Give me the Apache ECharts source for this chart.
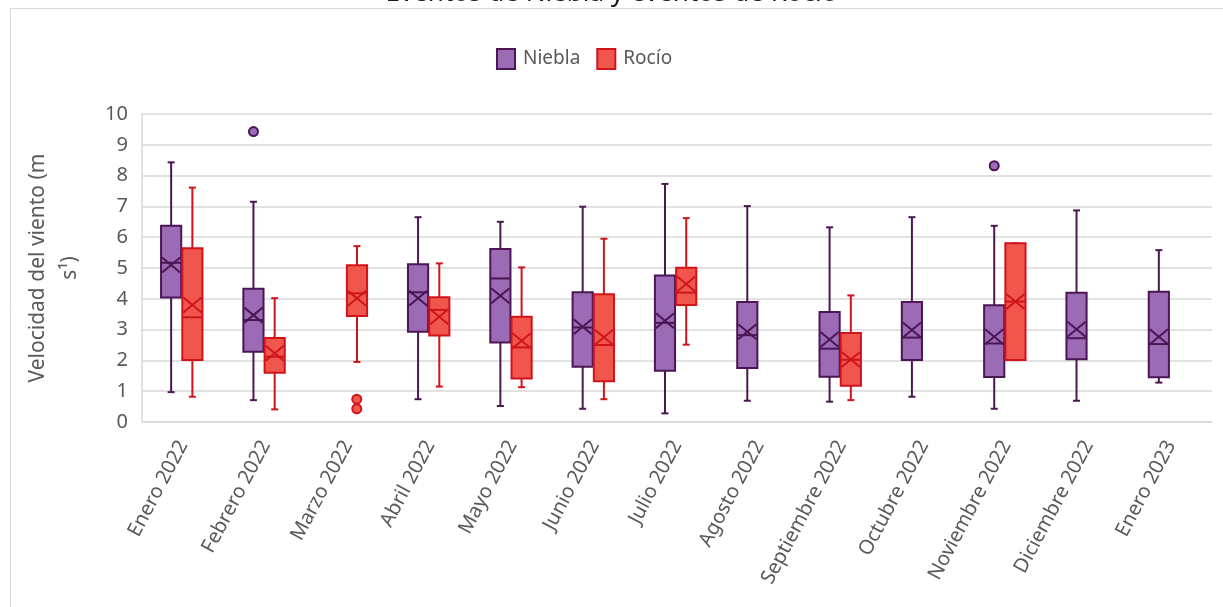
<!DOCTYPE html>
<html>
<head>
<meta charset="utf-8">
<script src="https://cdn.jsdelivr.net/npm/echarts@6/dist/echarts.min.js"></script>
<style>
  html, body { margin: 0; padding: 0; background: #ffffff; }
  #chart { width: 1223px; height: 607px; }
</style>
</head>
<body>
<div id="chart"></div>
<script>
// Monthly wind-speed distributions during fog (Niebla) and dew (Rocío) events
const months = ['Enero 2022', 'Febrero 2022', 'Marzo 2022', 'Abril 2022', 'Mayo 2022', 'Junio 2022',
  'Julio 2022', 'Agosto 2022', 'Septiembre 2022', 'Octubre 2022', 'Noviembre 2022',
  'Diciembre 2022', 'Enero 2023'];

const nieblaMin    = [0.97, 0.71, null, 0.74, 0.52, 0.43, 0.28, 0.69, 0.66, 0.82, 0.43, 0.69, 1.28];
const nieblaQ1     = [4.04, 2.28, null, 2.93, 2.58, 1.79, 1.66, 1.75, 1.47, 2.01, 1.46, 2.04, 1.45];
const nieblaMedian = [5.17, 3.31, null, 4.21, 4.66, 3.07, 3.22, 2.82, 2.38, 2.74, 2.55, 2.72, 2.53];
const nieblaQ3     = [6.37, 4.33, null, 5.12, 5.62, 4.21, 4.76, 3.90, 3.57, 3.90, 3.79, 4.20, 4.23];
const nieblaMax    = [8.43, 7.15, null, 6.65, 6.50, 6.99, 7.73, 7.01, 6.32, 6.65, 6.37, 6.87, 5.58];
const nieblaMean   = [5.10, 3.47, null, 4.02, 4.10, 3.09, 3.29, 2.93, 2.68, 2.99, 2.77, 3.01, 2.77];
const nieblaOutliers = [[1, 9.43], [10, 8.32]];

const rocioMin    = [0.82, 0.41, 1.95, 1.15, 1.13, 0.74, 2.51, null, 0.71, null, 2.01, null, null];
const rocioQ1     = [2.01, 1.60, 3.44, 2.81, 1.41, 1.32, 3.80, null, 1.18, null, 2.01, null, null];
const rocioMedian = [3.40, 2.12, 4.18, 3.64, 2.42, 2.50, 4.20, null, 2.02, null, 3.91, null, null];
const rocioQ3     = [5.64, 2.73, 5.09, 4.05, 3.42, 4.15, 5.01, null, 2.89, null, 5.80, null, null];
const rocioMax    = [7.61, 4.02, 5.71, 5.15, 5.02, 5.95, 6.62, null, 4.11, null, 5.80, null, null];
const rocioMean   = [3.80, 2.23, 4.02, 3.42, 2.64, 2.75, 4.48, null, 2.03, null, 3.91, null, null];
const rocioOutliers = [[2, 0.74], [2, 0.43]];

const yTicks = [0, 10, 1]; // min, max, step

const NIEBLA_FILL = '#9b6bb6', NIEBLA_LINE = '#4b1653';
const ROCIO_FILL = '#f0564c', ROCIO_LINE = '#d0141c';
const TEXT = '#595959', GRID = '#d9d9d9';

// One row per month: [index, min, q1, median, q3, max, mean]
function boxRows(mn, q1, med, q3, mx, mean) {
  const rows = [];
  months.forEach((m, i) => {
    if (med[i] == null) return;
    rows.push([i, mn[i], q1[i], med[i], q3[i], mx[i], mean[i]]);
  });
  return rows;
}

// Draws whiskers, box, median line and the mean "X" for one group
function boxRenderer(offsetFrac, fill, stroke) {
  return function (params, api) {
    const i = api.value(0);
    const band = api.size([1, 0])[0];
    const cx = api.coord([i, 0])[0] + band * offsetFrac;
    const w = band * 0.245;
    const left = cx - w / 2;
    const yv = k => api.coord([i, api.value(k)])[1];
    const yMin = yv(1), yQ1 = yv(2), yMed = yv(3), yQ3 = yv(4), yMax = yv(5), yMean = yv(6);
    const cap = 3.5, xh = w / 2 - 1, xv = 7.5;
    const line = (x1, y1, x2, y2) => ({
      type: 'line', shape: { x1, y1, x2, y2 }, style: { stroke, lineWidth: 2 }
    });
    return {
      type: 'group',
      children: [
        line(cx, yQ3, cx, yMax), line(cx - cap, yMax, cx + cap, yMax),
        line(cx, yQ1, cx, yMin), line(cx - cap, yMin, cx + cap, yMin),
        { type: 'rect', shape: { x: left, y: yQ3, width: w, height: yQ1 - yQ3 },
          style: { fill, stroke, lineWidth: 2 } },
        line(left, yMed, left + w, yMed),
        line(cx - xh, yMean - xv, cx + xh, yMean + xv),
        line(cx - xh, yMean + xv, cx + xh, yMean - xv)
      ]
    };
  };
}

const chart = echarts.init(document.getElementById('chart'), null, { renderer: 'canvas' });

chart.setOption({
  animation: false,
  backgroundColor: '#ffffff',
  title: {
    text: 'Eventos de Niebla y eventos de Rocío',
    left: 'center',
    top: -24,
    textStyle: { fontFamily: 'Noto Sans', fontSize: 26, fontWeight: 'normal', color: '#1a1a1a' }
  },
  graphic: [
    { type: 'line', shape: { x1: 10, y1: 8.5, x2: 1223, y2: 8.5 }, style: { stroke: GRID, lineWidth: 1 }, silent: true },
    { type: 'line', shape: { x1: 10.5, y1: 8.5, x2: 10.5, y2: 607 }, style: { stroke: GRID, lineWidth: 1 }, silent: true }
  ],
  legend: {
    top: 43,
    left: 491,
    itemWidth: 18,
    itemHeight: 20,
    itemGap: 16,
    icon: 'rect',
    textStyle: { fontFamily: 'Noto Sans', fontSize: 19, color: TEXT, padding: [0, 0, 0, 3] },
    data: [
      { name: 'Niebla', itemStyle: { color: NIEBLA_FILL, borderColor: NIEBLA_LINE, borderWidth: 2 } },
      { name: 'Rocío', itemStyle: { color: ROCIO_FILL, borderColor: ROCIO_LINE, borderWidth: 2 } }
    ]
  },
  grid: { left: 142, right: 11, top: 114, bottom: 185, containLabel: false },
  xAxis: {
    type: 'category',
    data: months,
    axisLine: { show: true, lineStyle: { color: GRID, width: 1.5 } },
    axisTick: { show: false },
    splitLine: { show: false },
    axisLabel: {
      interval: 0, rotate: 62, margin: 20,
      fontFamily: 'Noto Sans', fontSize: 20, color: TEXT
    }
  },
  yAxis: {
    type: 'value',
    min: yTicks[0], max: yTicks[1], interval: yTicks[2],
    name: 'Velocidad del viento (m\ns¹)',
    nameLocation: 'middle',
    nameGap: 56,
    nameTextStyle: { fontFamily: 'Noto Sans', fontSize: 21, color: TEXT, lineHeight: 32, align: 'center' },
    axisLine: { show: true, lineStyle: { color: GRID, width: 1.5 } },
    axisTick: { show: false },
    splitLine: { lineStyle: { color: GRID, width: 1.5 } },
    axisLabel: { margin: 14, fontFamily: 'Noto Sans', fontSize: 20, color: TEXT }
  },
  series: [
    {
      name: 'Niebla', type: 'custom',
      renderItem: boxRenderer(-0.146, NIEBLA_FILL, NIEBLA_LINE),
      itemStyle: { color: NIEBLA_FILL },
      encode: { x: 0, y: [1, 2, 3, 4, 5, 6] },
      data: boxRows(nieblaMin, nieblaQ1, nieblaMedian, nieblaQ3, nieblaMax, nieblaMean),
      z: 3
    },
    {
      name: 'Rocío', type: 'custom',
      renderItem: boxRenderer(0.112, ROCIO_FILL, ROCIO_LINE),
      itemStyle: { color: ROCIO_FILL },
      encode: { x: 0, y: [1, 2, 3, 4, 5, 6] },
      data: boxRows(rocioMin, rocioQ1, rocioMedian, rocioQ3, rocioMax, rocioMean),
      z: 3
    },
    {
      name: 'Niebla', type: 'scatter',
      symbol: 'circle', symbolSize: 9, symbolOffset: [-12, 0],
      itemStyle: { color: NIEBLA_FILL, borderColor: NIEBLA_LINE, borderWidth: 2, opacity: 1 },
      data: nieblaOutliers, z: 4
    },
    {
      name: 'Rocío', type: 'scatter',
      symbol: 'circle', symbolSize: 9, symbolOffset: [9, 0],
      itemStyle: { color: ROCIO_FILL, borderColor: ROCIO_LINE, borderWidth: 2, opacity: 1 },
      data: rocioOutliers, z: 4
    }
  ]
});
</script>
</body>
</html>
